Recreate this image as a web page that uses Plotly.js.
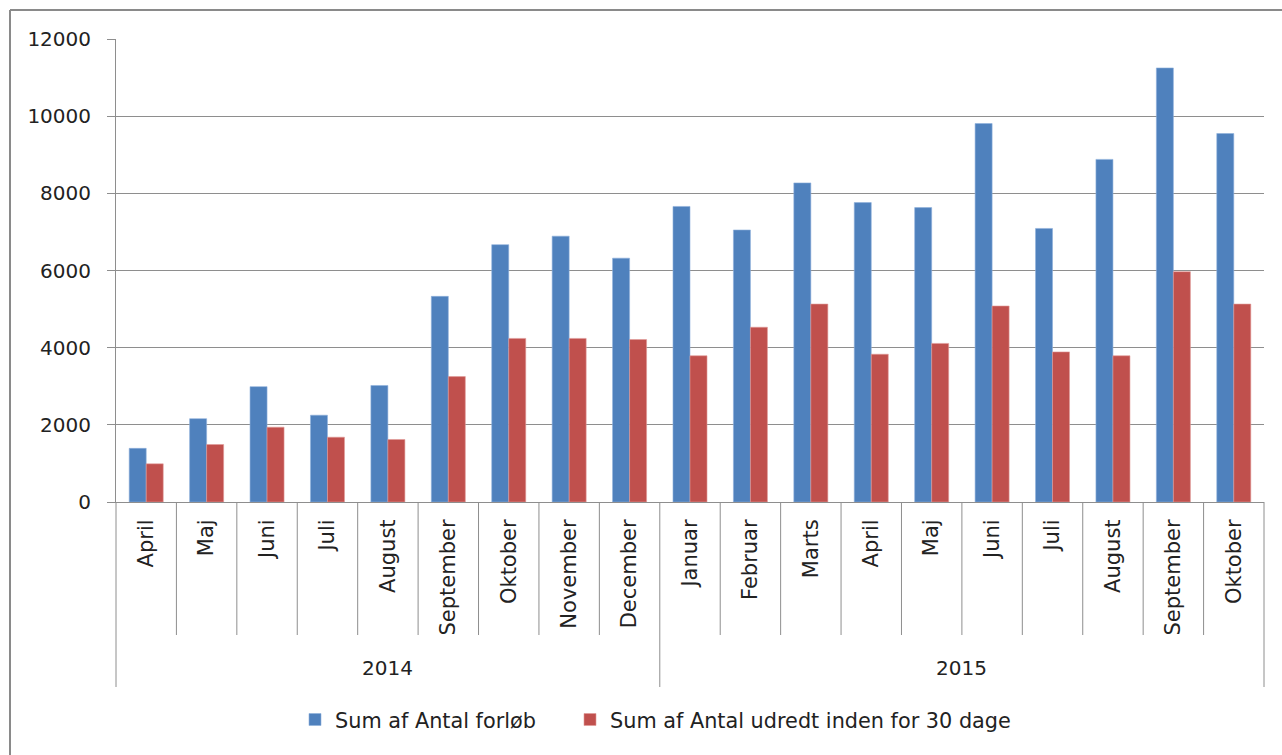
<!DOCTYPE html>
<html>
<head>
<meta charset="utf-8">
<script src="https://cdn.plot.ly/plotly-3.0.1.min.js"></script>
<style>
  html, body { margin: 0; padding: 0; background: #ffffff; }
  #chart { width: 1282px; height: 755px; }
</style>
</head>
<body>
<div id="chart"></div>
<script>
// ---- data ----
const months = ['April','Maj','Juni','Juli','August','September','Oktober','November','December',
                'Januar','Februar','Marts','April','Maj','Juni','Juli','August','September','Oktober'];
const years = ['2014','2014','2014','2014','2014','2014','2014','2014','2014',
               '2015','2015','2015','2015','2015','2015','2015','2015','2015','2015'];
const forloeb = [1390,2160,2990,2250,3020,5330,6670,6890,6320,
                 7660,7050,8270,7760,7630,9810,7090,8880,11250,9550];
const udredt = [990,1490,1940,1680,1620,3250,4240,4240,4210,
                3790,4530,5130,3830,4110,5080,3890,3790,5970,5130];
const seriesNames = ['Sum af Antal forløb', 'Sum af Antal udredt inden for 30 dage'];

// ---- layout geometry ----
const W = 1282, H = 755;
const M = {l: 116, r: 18, t: 39, b: 253};
const plotW = W - M.l - M.r, plotH = H - M.t - M.b;
const px2paperX = p => (p - M.l) / plotW;
const px2paperY = p => (H - M.b - p) / plotH;

const idx = months.map((_, i) => i);
const n = months.length;
const FONT = 'DejaVu Sans, Liberation Sans, sans-serif';
const GRID = '#8e8e8e';

const traces = [
  {type: 'bar', name: seriesNames[0], x: idx, y: forloeb, legend: 'legend',
   marker: {color: '#4F81BD', line: {color: '#8fb0dc', width: 0.6}}, hoverinfo: 'y'},
  {type: 'bar', name: seriesNames[1], x: idx, y: udredt, legend: 'legend2',
   marker: {color: '#C0504D', line: {color: '#e09a98', width: 0.6}}, hoverinfo: 'y'}
];

// divider lines below the category axis
const shapes = [];
const monthDivBottom = px2paperY(635);
const yearDivBottom = px2paperY(687);
for (let i = 0; i <= n; i++) {
  const isYearEdge = (i === 0 || i === n || years[i] !== years[i - 1]);
  shapes.push({type: 'line', xref: 'paper', yref: 'paper',
    x0: i / n, x1: i / n, y0: 0, y1: isYearEdge ? yearDivBottom : monthDivBottom,
    line: {color: GRID, width: 1}});
}
// outer chart frame (top and left edges visible)
shapes.push({type: 'line', xref: 'paper', yref: 'paper',
  x0: px2paperX(10), x1: px2paperX(W + 5), y0: px2paperY(10), y1: px2paperY(10),
  line: {color: '#8a8a8a', width: 2}});
shapes.push({type: 'line', xref: 'paper', yref: 'paper',
  x0: px2paperX(10), x1: px2paperX(10), y0: px2paperY(10), y1: px2paperY(H + 5),
  line: {color: '#8a8a8a', width: 2}});

// year group labels
const uniqYears = [...new Set(years)];
const annotations = uniqYears.map(yr => {
  const members = idx.filter(i => years[i] === yr);
  const centre = (members[0] + members[members.length - 1]) / 2;
  return {xref: 'x', yref: 'paper', x: centre, y: px2paperY(668),
    text: yr, showarrow: false, xanchor: 'center', yanchor: 'middle',
    font: {family: FONT, size: 20, color: '#222'}};
});

const legendBase = {orientation: 'h', xanchor: 'left',
  y: px2paperY(720), yanchor: 'middle',
  font: {family: FONT, size: 20.8, color: '#222'}, itemwidth: 30,
  bgcolor: 'rgba(0,0,0,0)'};

const layout = {
  width: W, height: H,
  margin: M,
  paper_bgcolor: '#ffffff', plot_bgcolor: '#ffffff',
  barmode: 'group', bargap: 0.437, bargroupgap: 0,
  font: {family: FONT, color: '#222'},
  xaxis: {
    range: [-0.5, n - 0.5], tickmode: 'array', tickvals: idx, ticktext: months,
    tickangle: -90, ticks: '', showgrid: false, zeroline: false,
    showline: true, linecolor: GRID, linewidth: 1,
    tickfont: {family: FONT, size: 21, color: '#222'},
    ticklabelstandoff: 8, fixedrange: true
  },
  yaxis: {
    range: [0, 12000], dtick: 2000, tick0: 0,
    showgrid: true, gridcolor: GRID, gridwidth: 1, zeroline: false,
    showline: true, linecolor: GRID, linewidth: 1,
    ticks: 'outside', ticklen: 8, tickcolor: GRID, tickwidth: 1,
    tickfont: {family: FONT, size: 20, color: '#222'},
    ticklabelstandoff: 12, tickformat: 'd', fixedrange: true
  },
  showlegend: true,
  legend: Object.assign({}, legendBase, {x: px2paperX(295)}),
  legend2: Object.assign({}, legendBase, {x: px2paperX(570)}),
  shapes: shapes,
  annotations: annotations
};

Plotly.newPlot('chart', traces, layout, {displayModeBar: false, staticPlot: true});
</script>
</body>
</html>
